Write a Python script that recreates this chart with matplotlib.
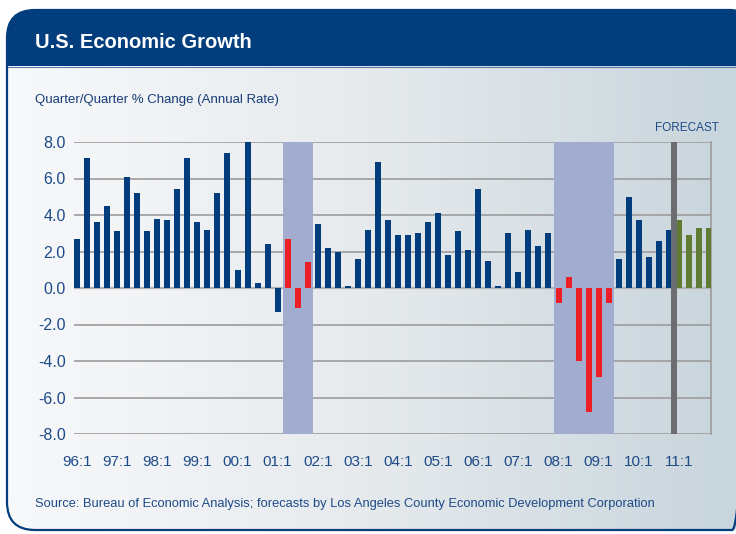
import numpy as np
import matplotlib
matplotlib.use('Agg')
import matplotlib.pyplot as plt
from matplotlib.path import Path
from matplotlib.patches import PathPatch, Rectangle
from matplotlib.colors import LinearSegmentedColormap

plt.rcParams['font.family'] = ['Liberation Sans', 'DejaVu Sans']

# Data (quarter/quarter % change, annual rate)
years = ['96', '97', '98', '99', '00', '01', '02', '03',
         '04', '05', '06', '07', '08', '09', '10', '11']
quarters = [y + ':' + str(q) for y in years for q in range(1, 5)]
growth = [2.7, 7.1, 3.6, 4.5,
          3.1, 6.1, 5.2, 3.1,
          3.8, 3.7, 5.4, 7.1,
          3.6, 3.2, 5.2, 7.4,
          1.0, 8.0, 0.3, 2.4,
          -1.3, 2.7, -1.1, 1.4,
          3.5, 2.2, 2.0, 0.1,
          1.6, 3.2, 6.9, 3.7,
          2.9, 2.9, 3.0, 3.6,
          4.1, 1.8, 3.1, 2.1,
          5.4, 1.5, 0.1, 3.0,
          0.9, 3.2, 2.3, 3.0,
          -0.8, 0.6, -4.0, -6.8,
          -4.9, -0.8, 1.6, 5.0,
          3.7, 1.7, 2.6, 3.2,
          3.7, 2.9, 3.3, 3.3]
recessions = [['01:2', '01:3', '01:4'],
              ['08:1', '08:2', '08:3', '08:4', '09:1', '09:2']]
forecast_quarters = ['11:1', '11:2', '11:3', '11:4']
y_ticks = [-8, -6, -4, -2, 0, 2, 4, 6, 8]

NAVY = '#023e7d'
BAR_BLUE = '#013c7c'
RED = '#ec1f26'
GREEN = '#607c34'
SHADE = '#a1acce'
TEXT_BLUE = '#1d4a88'
GRID = '#9c9c9c'

W, H = 736, 534
fig = plt.figure(figsize=(W / 100, H / 100), dpi=100)
fig.patch.set_facecolor('white')

# panel background in pixel coordinates
bg = fig.add_axes([0, 0, 1, 1])
bg.set_xlim(0, W)
bg.set_ylim(H, 0)
bg.axis('off')


def rounded_box(x0, y0, x1, y1, r_tl, r_tr, r_br, r_bl):
    verts = [(x0 + r_tl, y0), (x1 - r_tr, y0), (x1, y0), (x1, y0 + r_tr),
             (x1, y1 - r_br), (x1, y1), (x1 - r_br, y1),
             (x0 + r_bl, y1), (x0, y1), (x0, y1 - r_bl),
             (x0, y0 + r_tl), (x0, y0), (x0 + r_tl, y0), (x0 + r_tl, y0)]
    codes = [Path.MOVETO, Path.LINETO, Path.CURVE3, Path.CURVE3,
             Path.LINETO, Path.CURVE3, Path.CURVE3,
             Path.LINETO, Path.CURVE3, Path.CURVE3,
             Path.LINETO, Path.CURVE3, Path.CURVE3, Path.CLOSEPOLY]
    return Path(verts, codes)


panel_path = rounded_box(7, 10, 746, 530, 28, 16, 14, 28)
clip = PathPatch(panel_path, facecolor='none', edgecolor='none')
bg.add_patch(clip)

grad_cmap = LinearSegmentedColormap.from_list(
    'panel', ['#f8f9fb', '#e6eaed', '#c8d5dc'])
grad = np.tile(np.linspace(0, 1, 256), (2, 1))
img = bg.imshow(grad, extent=(0, W, H, 0), cmap=grad_cmap, aspect='auto',
                interpolation='bilinear', zorder=0)
img.set_clip_path(clip)

header = Rectangle((0, 0), W + 20, 66, facecolor=NAVY, edgecolor='none', zorder=1)
bg.add_patch(header)
header.set_clip_path(clip)
bg.plot([7, W], [66.5, 66.5], color='#5a7bab', lw=0.8, zorder=2)

border = PathPatch(panel_path, facecolor='none', edgecolor=NAVY, lw=1.6, zorder=3)
bg.add_patch(border)

# chart
ax = fig.add_axes([74 / W, 100 / H, 637 / W, 292 / H])
ax.patch.set_alpha(0)
x = np.arange(len(quarters))

colors = []
for q in quarters:
    if q in forecast_quarters:
        colors.append(GREEN)
    elif any(q in r for r in recessions):
        colors.append(RED)
    else:
        colors.append(BAR_BLUE)

for yt in y_ticks:
    ax.axhline(yt, color='#b3b3b3' if yt == 0 else GRID,
               lw=1.6 if yt == 0 else 1.2, zorder=1)

for r in recessions:
    ax.axvspan(quarters.index(r[0]) - 0.5, quarters.index(r[-1]) + 0.5,
               color=SHADE, lw=0, zorder=2)

ax.bar(x, growth, width=0.6, color=colors, zorder=3)

f0 = quarters.index(forecast_quarters[0])
ax.axvline(f0 - 0.5, color='#6c6d71', lw=4.3, zorder=4)

ax.set_xlim(-0.3, len(quarters) - 0.8)
ax.set_ylim(-8, 8)
ax.set_xticks(x[::4])
ax.set_xticklabels(quarters[::4])
ax.set_yticks(y_ticks)
ax.set_yticklabels(['%.1f' % v for v in y_ticks])
ax.tick_params(axis='x', length=0, pad=15, labelsize=11, labelcolor=TEXT_BLUE)
ax.tick_params(axis='y', length=0, pad=6, labelsize=11.5, labelcolor=TEXT_BLUE)
for s in ['left', 'top', 'bottom']:
    ax.spines[s].set_visible(False)
ax.spines['right'].set_color(GRID)
ax.spines['right'].set_linewidth(1.2)

fig.text(35 / W, 1 - 42 / H, 'U.S. Economic Growth', color='white',
         fontsize=14.5, fontweight='bold', va='center', ha='left')
fig.text(35 / W, 1 - 100 / H, 'Quarter/Quarter % Change (Annual Rate)',
         color='#163c78', fontsize=9.5, va='center', ha='left')
fig.text(687 / W, 1 - 128 / H, 'FORECAST', color=TEXT_BLUE, fontsize=8.5,
         va='center', ha='center')
fig.text(35 / W, 1 - 504 / H,
         'Source: Bureau of Economic Analysis; forecasts by Los Angeles County '
         'Economic Development Corporation',
         color=TEXT_BLUE, fontsize=9.3, va='center', ha='left')

fig.savefig('out.png', dpi=100)
